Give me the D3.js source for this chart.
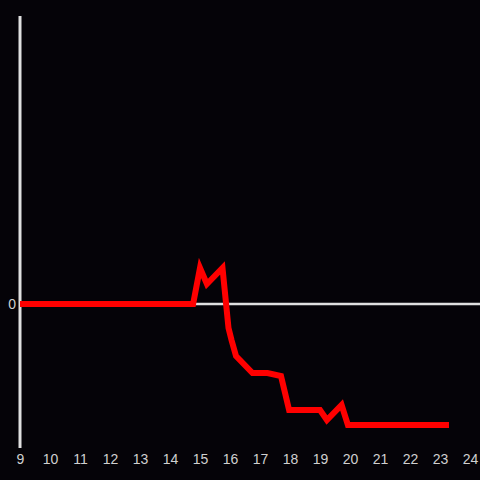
<!DOCTYPE html>
<meta charset="utf-8">
<style>
  body { margin: 0; background: #050308; }
  svg { display: block; }
  .tick text { font: 14px "Liberation Sans", Arial, sans-serif; fill: #d0d0d0; }
</style>
<body>
<svg id="chart" width="480" height="480"></svg>
<script src="https://cdn.jsdelivr.net/npm/d3@7"></script>
<script>
  // hour of day and value
  var hours = [9, 14.77, 15.0, 15.23, 15.75, 15.95, 16.05, 16.2, 16.75, 17.25, 17.7, 17.97, 19.0, 19.23, 19.72, 19.93, 23.3];
  var values = [0, 0, 36, 20, 36, -24, -36, -52, -69, -69, -72, -106, -106, -116, -101, -121, -121];
  var xTicks = [9, 10, 11, 12, 13, 14, 15, 16, 17, 18, 19, 20, 21, 22, 23, 24];

  var svg = d3.select("#chart");

  var x = d3.scaleLinear().domain([9, 24]).range([20, 470]);
  var y = d3.scaleLinear().domain([-144, 288]).range([448, 16]);

  // zero line
  svg.append("line")
    .attr("x1", x(9)).attr("x2", 480)
    .attr("y1", y(0)).attr("y2", y(0))
    .attr("stroke", "#e0e0e0").attr("stroke-width", 2.5);

  // y axis line
  svg.append("line")
    .attr("x1", x(9)).attr("x2", x(9))
    .attr("y1", y(288)).attr("y2", y(-144))
    .attr("stroke", "#e0e0e0").attr("stroke-width", 3);

  svg.append("text")
    .attr("x", 16).attr("y", y(0))
    .attr("dy", "0.35em")
    .attr("text-anchor", "end")
    .style("font", '14px "Liberation Sans", Arial, sans-serif')
    .style("fill", "#d0d0d0")
    .text("0");

  var xAxis = svg.append("g")
    .attr("transform", "translate(0,448)")
    .call(d3.axisBottom(x).tickValues(xTicks).tickSize(0).tickPadding(6));
  xAxis.select(".domain").remove();

  var data = hours.map((h, i) => ({ h: h, v: values[i] }));

  svg.append("path")
    .datum(data)
    .attr("fill", "none")
    .attr("stroke", "#ff0000")
    .attr("stroke-width", 6)
    .attr("d", d3.line().x(d => x(d.h)).y(d => y(d.v)));
</script>
</body>
